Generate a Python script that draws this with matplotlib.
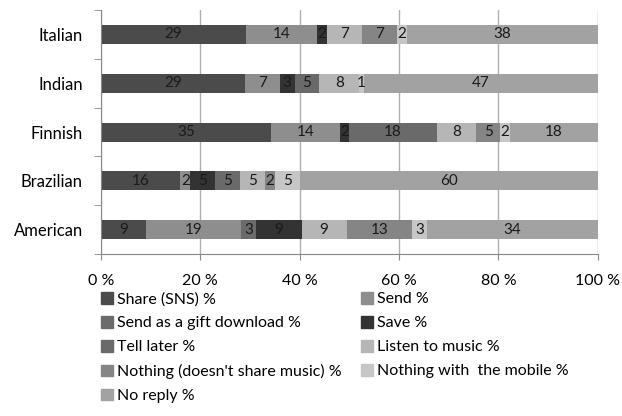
import matplotlib.pyplot as plt
import matplotlib.patches as mpatches
import numpy as np

plt.rcParams['font.family'] = ['Lato', 'DejaVu Sans']

countries = ['Italian', 'Indian', 'Finnish', 'Brazilian', 'American']
series = ['Share (SNS) %', 'Send %', 'Send as a gift download %', 'Save %',
          'Tell later %', 'Listen to music %', "Nothing (doesn't share music) %",
          'Nothing with  the mobile %', 'No reply %']

# values per series, one entry per country (same order as countries)
share = [29, 29, 35, 16, 9]
send = [14, 7, 14, 2, 19]
gift = [0, 0, 0, 0, 3]
save = [2, 3, 2, 5, 9]
tell_later = [0, 5, 18, 5, 0]
listen = [7, 8, 8, 5, 9]
nothing = [7, 0, 5, 2, 13]
nothing_mobile = [2, 1, 2, 5, 3]
no_reply = [38, 47, 18, 60, 34]

data = [share, send, gift, save, tell_later, listen, nothing, nothing_mobile, no_reply]
colors = ['#4b4b4b', '#8e8e8e', '#6b6b6b', '#333333', '#6a6a6a',
          '#b6b6b6', '#858585', '#c6c6c6', '#a2a2a2']

fig = plt.figure(figsize=(6.22, 4.16), dpi=100)
ax = fig.add_axes([0.162, 0.389, 0.799, 0.587])

arr = np.array(data, dtype=float)
totals = arr.sum(axis=0)
y = np.arange(len(countries))
left = np.zeros(len(countries))
handles = []
for vals, col, name in zip(arr, colors, series):
    width = vals / totals * 100  # 100 % stacked
    ax.barh(y, width, left=left, height=0.39, color=col, edgecolor='none', zorder=2)
    for yi, (l, w, v) in enumerate(zip(left, width, vals)):
        if v > 0:
            ax.text(l + w / 2, yi, f'{int(v)}', ha='center', va='center',
                    fontsize=11, color='#1a1a1a', zorder=3)
    left += width
    handles.append(mpatches.Patch(color=col, label=name))

ax.set_xlim(0, 100)
ax.set_ylim(4.5, -0.5)
ax.set_yticks(y)
ax.set_yticklabels(countries, fontsize=12)
ax.set_yticks(np.arange(-0.5, 5, 1), minor=True)
ax.tick_params(axis='y', which='major', length=0, pad=13)
ax.tick_params(axis='y', which='minor', length=5, color='#888888')
ax.set_xticks(np.arange(0, 101, 20))
ax.set_xticklabels([f'{v} %' for v in range(0, 101, 20)], fontsize=11.5)
ax.tick_params(axis='x', length=4, color='#888888', pad=10)
ax.grid(axis='x', color='#b0b0b0', linewidth=1, zorder=0)
for s in ['top', 'right']:
    ax.spines[s].set_visible(False)
ax.spines['left'].set_color('#888888')
ax.spines['bottom'].set_color('#888888')

leg_kw = dict(loc='upper left', frameon=False, fontsize=11.5, handlelength=0.75,
              handleheight=0.75, handletextpad=0.25, labelspacing=0.6,
              borderpad=0, borderaxespad=0)
left_items = [0, 2, 4, 6, 8]
right_items = [1, 3, 5, 7]
fig.legend([handles[i] for i in left_items], [series[i] for i in left_items],
           bbox_to_anchor=(0.163, 0.298), **leg_kw)
fig.legend([handles[i] for i in right_items], [series[i] for i in right_items],
           bbox_to_anchor=(0.580, 0.298), **leg_kw)

fig.savefig('out.png', dpi=100)
